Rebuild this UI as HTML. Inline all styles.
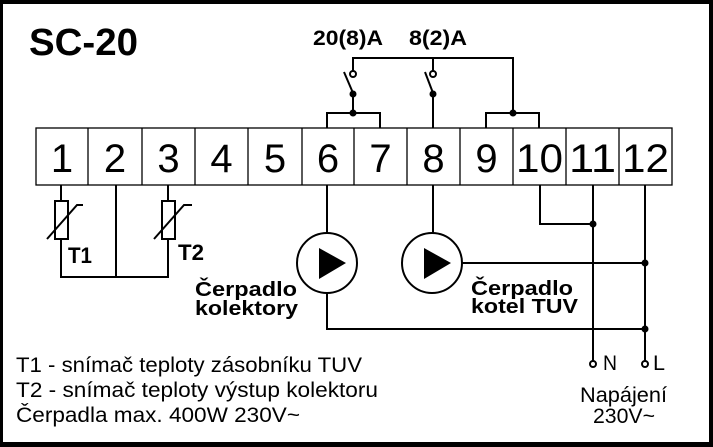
<!DOCTYPE html>
<html><head><meta charset="utf-8"><style>
html,body{margin:0;padding:0;background:#000;}
body{width:713px;height:447px;overflow:hidden;position:relative;}
svg{position:absolute;left:0;top:0;}
text{font-family:"Liberation Sans",Arial,sans-serif;fill:#000;}
.b{font-weight:bold;}
</style></head><body>
<svg width="713" height="447" viewBox="0 0 713 447" xmlns="http://www.w3.org/2000/svg">
<rect x="0" y="0" width="713" height="447" fill="#000"/>
<rect x="3" y="4" width="706" height="438" fill="#fff"/>

<text class="b" x="29" y="55" font-size="38" textLength="109" lengthAdjust="spacingAndGlyphs">SC-20</text>
<text class="b" x="313" y="45" font-size="21" textLength="70" lengthAdjust="spacingAndGlyphs">20(8)A</text>
<text class="b" x="409" y="45" font-size="21" textLength="58" lengthAdjust="spacingAndGlyphs">8(2)A</text>

<!-- terminal block -->
<g stroke="#000" stroke-width="1.3" fill="none">
<rect x="36" y="128" width="636" height="57"/>
<line x1="88" y1="128" x2="88" y2="185"/>
<line x1="142" y1="128" x2="142" y2="185"/>
<line x1="195" y1="128" x2="195" y2="185"/>
<line x1="248" y1="128" x2="248" y2="185"/>
<line x1="302" y1="128" x2="302" y2="185"/>
<line x1="354" y1="128" x2="354" y2="185"/>
<line x1="407" y1="128" x2="407" y2="185"/>
<line x1="460" y1="128" x2="460" y2="185"/>
<line x1="513" y1="128" x2="513" y2="185"/>
<line x1="566" y1="128" x2="566" y2="185"/>
<line x1="619" y1="128" x2="619" y2="185"/>
</g>
<g font-size="40" text-anchor="middle">
<text x="62" y="172">1</text>
<text x="115" y="172">2</text>
<text x="168.5" y="172">3</text>
<text x="221.5" y="172">4</text>
<text x="275" y="172">5</text>
<text x="328" y="172">6</text>
<text x="380.5" y="172">7</text>
<text x="433.5" y="172">8</text>
<text x="486.5" y="172">9</text>
<text x="539.5" y="172" textLength="47" lengthAdjust="spacingAndGlyphs">10</text>
<text x="592.5" y="172" textLength="47" lengthAdjust="spacingAndGlyphs">11</text>
<text x="645.5" y="172" textLength="47" lengthAdjust="spacingAndGlyphs">12</text>
</g>

<!-- relay wiring -->
<g stroke="#000" stroke-width="2" fill="none">
<polyline points="353,71 353,58 513,58 513,113"/>
<line x1="433" y1="58" x2="433" y2="71"/>
<line x1="344" y1="72" x2="353" y2="93"/>
<line x1="425" y1="72" x2="433" y2="93"/>
<line x1="353" y1="94" x2="353" y2="113"/>
<polyline points="327,128 327,113 380,113 380,128"/>
<line x1="433" y1="94" x2="433" y2="128"/>
<polyline points="486,128 486,113 539,113 539,128"/>
<circle cx="353" cy="74" r="3" fill="#fff"/>
<circle cx="433" cy="74" r="3" fill="#fff"/>
</g>
<g fill="#000">
<circle cx="353" cy="94" r="3.5"/>
<circle cx="433" cy="94" r="3.5"/>
<circle cx="353" cy="113" r="3.5"/>
<circle cx="513" cy="113" r="3.5"/>
</g>

<!-- sensors -->
<g stroke="#000" stroke-width="2" fill="none">
<line x1="61" y1="185" x2="61" y2="201"/>
<rect x="55" y="201" width="13" height="38"/>
<polyline points="61,239 61,277 168,277 168,239"/>
<line x1="116" y1="185" x2="116" y2="277"/>
<polyline points="47,239 77,205 83,205"/>
<line x1="168" y1="185" x2="168" y2="201"/>
<rect x="162" y="201" width="13" height="38"/>
<polyline points="154,239 184,205 192,205"/>
</g>
<text class="b" x="68" y="263" font-size="22" textLength="24" lengthAdjust="spacingAndGlyphs">T1</text>
<text class="b" x="178" y="260" font-size="22" textLength="26" lengthAdjust="spacingAndGlyphs">T2</text>

<!-- pumps -->
<g stroke="#000" stroke-width="2" fill="none">
<line x1="327" y1="185" x2="327" y2="233"/>
<circle cx="327" cy="263" r="30"/>
<polyline points="327,293 327,329 645,329"/>
<line x1="433" y1="185" x2="433" y2="233"/>
<circle cx="432" cy="263" r="30"/>
<line x1="462" y1="263" x2="645" y2="263"/>
<polyline points="540,185 540,224 593,224"/>
<line x1="593" y1="185" x2="593" y2="361"/>
<line x1="645" y1="185" x2="645" y2="361"/>
<circle cx="593" cy="364" r="3" fill="#fff"/>
<circle cx="645" cy="364" r="3" fill="#fff"/>
</g>
<g fill="#000">
<polygon points="319,248 319,279 346,263"/>
<polygon points="424,248 424,279 451,263"/>
<circle cx="593" cy="224" r="3.5"/>
<circle cx="645" cy="263" r="3.5"/>
<circle cx="645" cy="329" r="3.5"/>
</g>

<g class="b" font-size="20">
<text x="195" y="296" textLength="102" lengthAdjust="spacingAndGlyphs">Čerpadlo</text>
<text x="195" y="315" textLength="103" lengthAdjust="spacingAndGlyphs">kolektory</text>
<text x="471" y="295" textLength="102" lengthAdjust="spacingAndGlyphs">Čerpadlo</text>
<text x="471" y="313" textLength="107" lengthAdjust="spacingAndGlyphs">kotel TUV</text>
</g>

<g font-size="21">
<text x="603" y="370" textLength="14" lengthAdjust="spacingAndGlyphs">N</text>
<text x="653" y="370" textLength="12" lengthAdjust="spacingAndGlyphs">L</text>
<text x="580" y="402" textLength="87" lengthAdjust="spacingAndGlyphs">Napájení</text>
<text x="593" y="423" textLength="62" lengthAdjust="spacingAndGlyphs">230V~</text>
<text x="16" y="372" textLength="346" lengthAdjust="spacingAndGlyphs">T1 - snímač teploty zásobníku TUV</text>
<text x="16" y="397" textLength="362" lengthAdjust="spacingAndGlyphs">T2 - snímač teploty výstup kolektoru</text>
<text x="16" y="422" textLength="284" lengthAdjust="spacingAndGlyphs">Čerpadla max. 400W 230V~</text>
</g>
</svg>
</body></html>
